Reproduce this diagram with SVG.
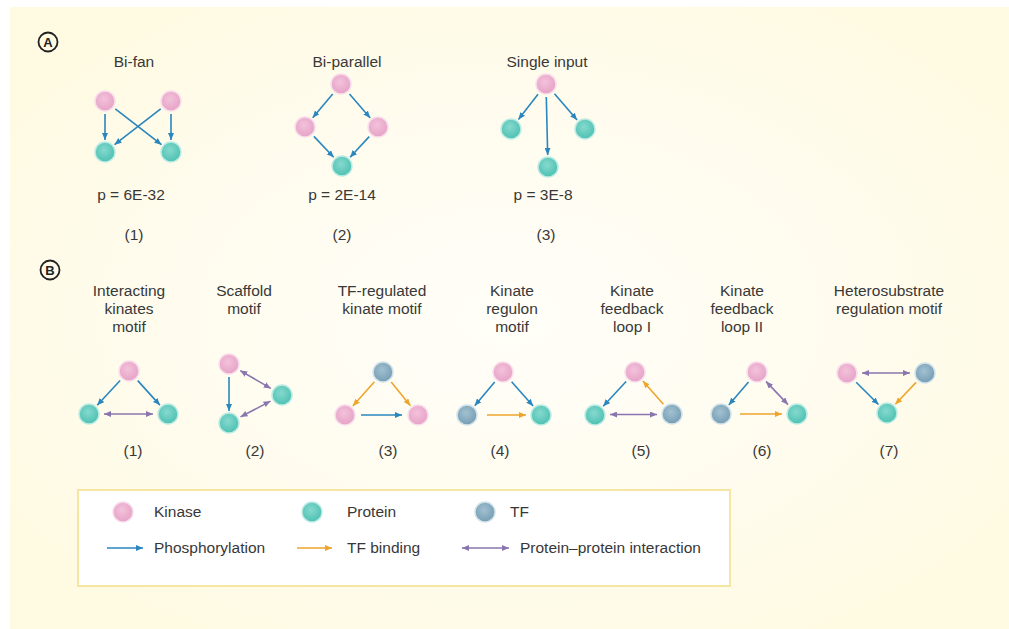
<svg xmlns="http://www.w3.org/2000/svg" width="1009" height="629" viewBox="0 0 1009 629">
<defs>
<radialGradient id="bg" cx="0.5" cy="0.5" r="0.6">
<stop offset="0" stop-color="#FFFEF8"/>
<stop offset="0.6" stop-color="#FFFCEE"/>
<stop offset="1" stop-color="#FFFAE2"/>
</radialGradient>
<radialGradient id="gK" cx="0.45" cy="0.4" r="0.6">
<stop offset="0" stop-color="#F3C2DB"/>
<stop offset="1" stop-color="#E6A2C6"/>
</radialGradient>
<radialGradient id="gP" cx="0.45" cy="0.4" r="0.6">
<stop offset="0" stop-color="#86D9CE"/>
<stop offset="1" stop-color="#4DC1B2"/>
</radialGradient>
<radialGradient id="gT" cx="0.45" cy="0.4" r="0.6">
<stop offset="0" stop-color="#A2C1D1"/>
<stop offset="1" stop-color="#769DB3"/>
</radialGradient>
<marker id="mB" markerWidth="7" markerHeight="6" refX="7" refY="3" orient="auto-start-reverse" markerUnits="userSpaceOnUse"><path d="M0,0 L7,3 L0,6 z" fill="#2A86BE"/></marker>
<marker id="mO" markerWidth="7" markerHeight="6" refX="7" refY="3" orient="auto-start-reverse" markerUnits="userSpaceOnUse"><path d="M0,0 L7,3 L0,6 z" fill="#EEA52C"/></marker>
<marker id="mV" markerWidth="7" markerHeight="6" refX="7" refY="3" orient="auto-start-reverse" markerUnits="userSpaceOnUse"><path d="M0,0 L7,3 L0,6 z" fill="#8A76AE"/></marker>
</defs>
<style>
text{font-family:"Liberation Sans",Arial,sans-serif;font-size:15.5px;fill:#383838;}
.c{text-anchor:middle;}
.k{fill:url(#gK);stroke:#F8DDEB;stroke-width:1.5;}
.p{fill:url(#gP);stroke:#BDEBE4;stroke-width:1.5;}
.t{fill:url(#gT);stroke:#D2E2EA;stroke-width:1.5;}
.ph{stroke:#2A86BE;stroke-width:1.6;fill:none;marker-end:url(#mB);}
.tf{stroke:#EEA52C;stroke-width:1.6;fill:none;marker-end:url(#mO);}
.pp{stroke:#8A76AE;stroke-width:1.6;fill:none;marker-end:url(#mV);marker-start:url(#mV);}
.lab circle{fill:none;stroke:#222;stroke-width:1.8;}
.lab text{font-weight:bold;font-size:13px;fill:#222;}
</style>

<rect x="0" y="0" width="1009" height="629" fill="#FFFFFF"/>
<rect x="10" y="7" width="999" height="622" fill="url(#bg)"/>

<g id="label-A" class="lab"><circle cx="48" cy="42" r="9.5"/><text x="48" y="46.5" class="c">A</text></g>
<g id="label-B" class="lab"><circle cx="50" cy="270" r="9.5"/><text x="50" y="274.5" class="c">B</text></g>

<!-- Section A titles -->
<g id="A1-text"><text x="134" y="67" class="c">Bi-fan</text><text x="131" y="200" class="c">p = 6E-32</text><text x="134" y="240" class="c">(1)</text></g>
<g id="A2-text"><text x="347" y="67" class="c">Bi-parallel</text><text x="342" y="200" class="c">p = 2E-14</text><text x="342" y="240" class="c">(2)</text></g>
<g id="A3-text"><text x="547" y="67" class="c">Single input</text><text x="543" y="200" class="c">p = 3E-8</text><text x="546" y="240" class="c">(3)</text></g>

<!-- Section B titles -->
<g id="B1-text"><text x="129" y="296" class="c">Interacting</text><text x="129" y="314" class="c">kinates</text><text x="129" y="332" class="c">motif</text><text x="133" y="456" class="c">(1)</text></g>
<g id="B2-text"><text x="244" y="296" class="c">Scaffold</text><text x="244" y="314" class="c">motif</text><text x="255" y="456" class="c">(2)</text></g>
<g id="B3-text"><text x="382" y="296" class="c">TF-regulated</text><text x="382" y="314" class="c">kinate motif</text><text x="388" y="456" class="c">(3)</text></g>
<g id="B4-text"><text x="512" y="296" class="c">Kinate</text><text x="512" y="314" class="c">regulon</text><text x="512" y="332" class="c">motif</text><text x="500" y="456" class="c">(4)</text></g>
<g id="B5-text"><text x="632" y="296" class="c">Kinate</text><text x="632" y="314" class="c">feedback</text><text x="632" y="332" class="c">loop I</text><text x="641" y="456" class="c">(5)</text></g>
<g id="B6-text"><text x="742" y="296" class="c">Kinate</text><text x="742" y="314" class="c">feedback</text><text x="742" y="332" class="c">loop II</text><text x="762" y="456" class="c">(6)</text></g>
<g id="B7-text"><text x="889" y="296" class="c">Heterosubstrate</text><text x="889" y="314" class="c">regulation motif</text><text x="889" y="456" class="c">(7)</text></g>

<g id="connectors">
<!-- A1 -->
<line class="ph" x1="105" y1="114" x2="105" y2="140"/>
<line class="ph" x1="171" y1="114" x2="171" y2="140"/>
<line class="ph" x1="115.3" y1="108.9" x2="161.5" y2="144.7"/>
<line class="ph" x1="160.7" y1="108.9" x2="114.5" y2="144.7"/>
<!-- A2 -->
<line class="ph" x1="332.7" y1="94" x2="312.7" y2="117.8"/>
<line class="ph" x1="349.5" y1="93.9" x2="370.2" y2="117.9"/>
<line class="ph" x1="313.9" y1="136.4" x2="333.7" y2="157.3"/>
<line class="ph" x1="369.2" y1="136.6" x2="350.1" y2="157.2"/>
<!-- A3 -->
<line class="ph" x1="538" y1="94.3" x2="518.4" y2="119.5"/>
<line class="ph" x1="554.5" y1="93.8" x2="577.1" y2="119.9"/>
<line class="ph" x1="546.3" y1="97" x2="547.7" y2="155"/>
<!-- B1 -->
<line class="ph" x1="120.1" y1="380.5" x2="97.2" y2="405.2"/>
<line class="ph" x1="137.7" y1="380.6" x2="159.9" y2="405.1"/>
<line class="pp" x1="104" y1="414" x2="153" y2="414"/>
<!-- B2 -->
<line class="ph" x1="229" y1="377" x2="229" y2="411"/>
<line class="pp" x1="240.2" y1="370.6" x2="270.8" y2="388.4"/>
<line class="pp" x1="240.5" y1="416.9" x2="270.5" y2="401.1"/>
<!-- B3 -->
<line class="tf" x1="374.4" y1="381.7" x2="352.9" y2="406"/>
<line class="tf" x1="391.2" y1="382.1" x2="410.4" y2="405.7"/>
<line class="ph" x1="361" y1="415" x2="402" y2="415"/>
<!-- B4 -->
<line class="ph" x1="494.7" y1="382" x2="474.7" y2="405.8"/>
<line class="ph" x1="511.6" y1="381.7" x2="533.1" y2="406"/>
<line class="tf" x1="487" y1="415" x2="526" y2="415"/>
<!-- B5 -->
<line class="ph" x1="626.1" y1="381.5" x2="603.2" y2="406.2"/>
<line class="tf" x1="663.4" y1="404.2" x2="642.9" y2="381"/>
<line class="pp" x1="610" y1="414.5" x2="657" y2="414.5"/>
<!-- B6 -->
<line class="ph" x1="748.5" y1="381.9" x2="728.8" y2="404.9"/>
<line class="pp" x1="766" y1="381.4" x2="788" y2="404.6"/>
<line class="tf" x1="740" y1="414" x2="782" y2="414"/>
<!-- B7 -->
<line class="pp" x1="862" y1="373" x2="910" y2="373"/>
<line class="ph" x1="856.2" y1="382.2" x2="878.5" y2="404.5"/>
<line class="tf" x1="916.1" y1="382.4" x2="895.3" y2="404.3"/>
</g>

<!-- Section A nodes -->
<g id="A1-nodes">
<circle class="k" cx="105" cy="101" r="10"/><circle class="k" cx="171" cy="101" r="10"/>
<circle class="p" cx="105" cy="152" r="10"/><circle class="p" cx="171" cy="152" r="10"/>
</g>
<g id="A2-nodes">
<circle class="k" cx="341" cy="84" r="10"/><circle class="k" cx="305" cy="127" r="10"/>
<circle class="k" cx="378" cy="127" r="10"/><circle class="p" cx="342" cy="166" r="10"/>
</g>
<g id="A3-nodes">
<circle class="k" cx="546" cy="84" r="10"/><circle class="p" cx="511" cy="129" r="10"/>
<circle class="p" cx="585" cy="129" r="10"/><circle class="p" cx="548" cy="167" r="10"/>
</g>

<!-- Section B nodes -->
<g id="B1-nodes"><circle class="k" cx="129" cy="371" r="10"/><circle class="p" cx="89" cy="414" r="10"/><circle class="p" cx="168" cy="414" r="10"/></g>
<g id="B2-nodes"><circle class="k" cx="229" cy="364" r="10"/><circle class="p" cx="282" cy="395" r="10"/><circle class="p" cx="229" cy="423" r="10"/></g>
<g id="B3-nodes"><circle class="t" cx="383" cy="372" r="10"/><circle class="k" cx="345" cy="415" r="10"/><circle class="k" cx="418" cy="415" r="10"/></g>
<g id="B4-nodes"><circle class="k" cx="503" cy="372" r="10"/><circle class="t" cx="467" cy="415" r="10"/><circle class="p" cx="541" cy="415" r="10"/></g>
<g id="B5-nodes"><circle class="k" cx="635" cy="372" r="10"/><circle class="p" cx="595" cy="415" r="10"/><circle class="t" cx="672" cy="414" r="10"/></g>
<g id="B6-nodes"><circle class="k" cx="757" cy="372" r="10"/><circle class="t" cx="721" cy="414" r="10"/><circle class="p" cx="797" cy="414" r="10"/></g>
<g id="B7-nodes"><circle class="k" cx="847" cy="373" r="10"/><circle class="t" cx="925" cy="373" r="10"/><circle class="p" cx="887" cy="413" r="10"/></g>

<!-- Legend -->
<g id="legend">
<rect x="78" y="490" width="652" height="96" fill="#FFFFFF" stroke="#F4E7A4" stroke-width="2"/>
<circle class="k" cx="123" cy="512" r="10"/><text x="154" y="517">Kinase</text>
<circle class="p" cx="312" cy="512" r="10"/><text x="347" y="517">Protein</text>
<circle class="t" cx="485" cy="512" r="10"/><text x="510" y="517">TF</text>
<line class="ph" x1="107" y1="548" x2="143" y2="548"/><text x="154" y="553">Phosphorylation</text>
<line class="tf" x1="297" y1="548" x2="332" y2="548"/><text x="347" y="553">TF binding</text>
<line class="pp" x1="462" y1="548" x2="509" y2="548"/><text x="520" y="553">Protein–protein interaction</text>
</g>
</svg>
